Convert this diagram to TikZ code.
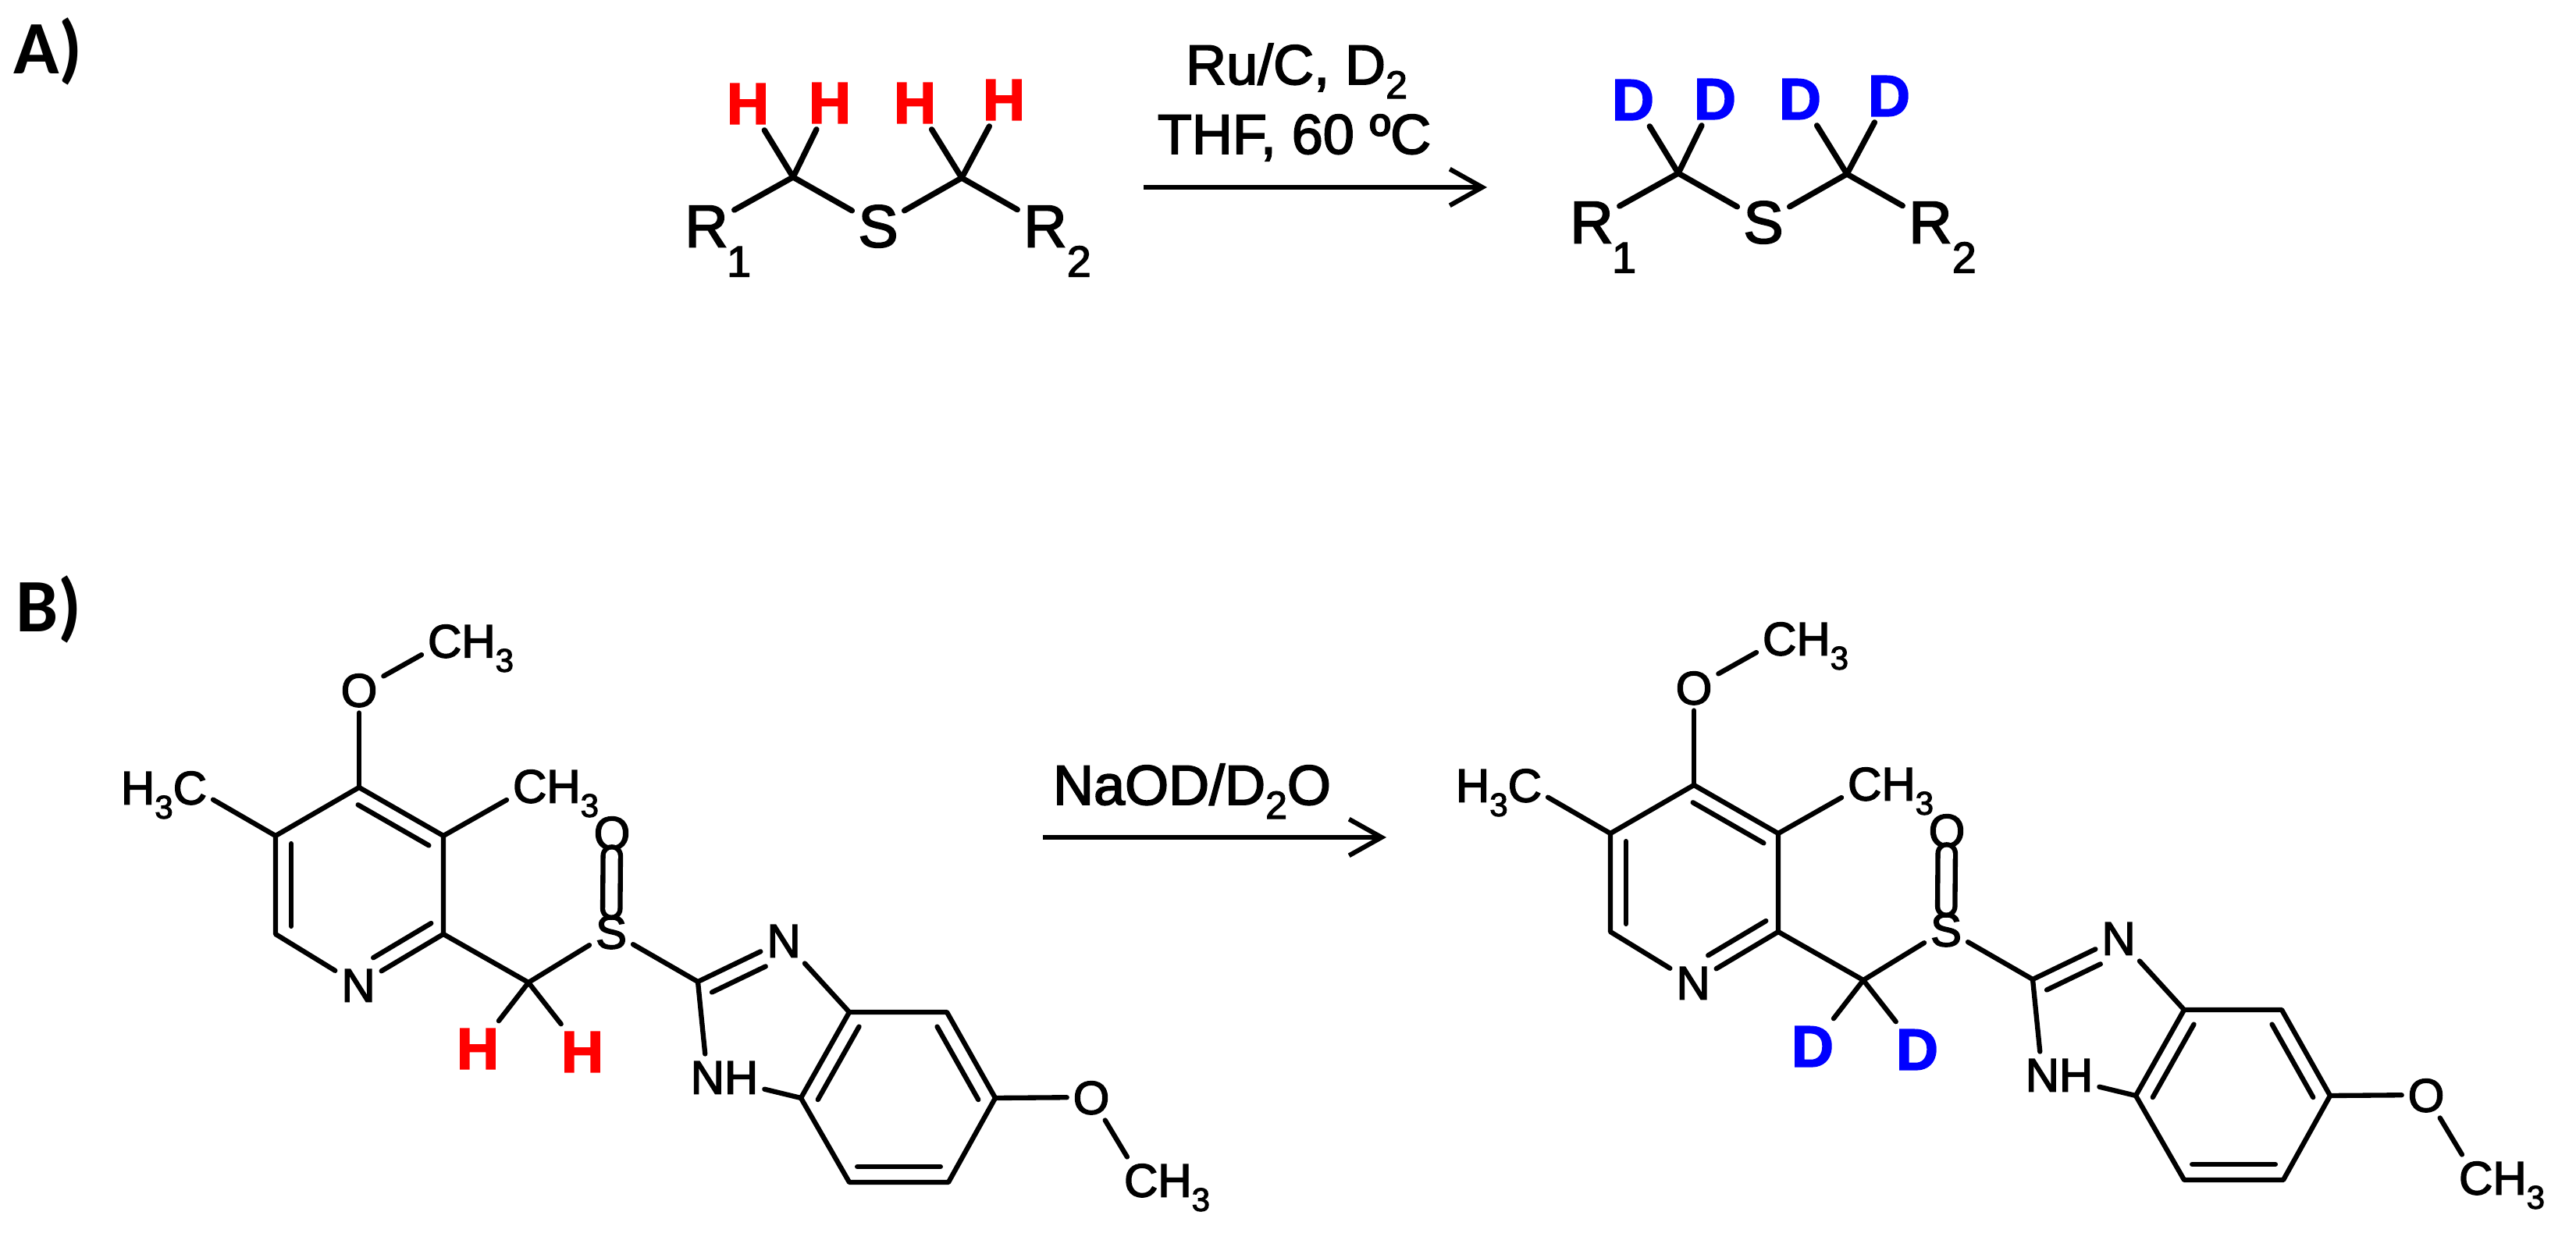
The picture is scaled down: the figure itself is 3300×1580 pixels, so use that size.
\documentclass[tikz,border=0pt]{standalone}
\usepackage{fontspec}
\setmainfont{Liberation Sans}[FakeBold=2.5]
\newfontfamily\isofont{Liberation Sans Bold}[FakeBold=2]
\newfontfamily\panelfont{Carlito}
\usetikzlibrary{arrows.meta,calc}

% lowered digit: drop, size, text
\newcommand{\lowdigit}[3]{\raisebox{-#1pt}{\fontsize{#2pt}{#2pt}\selectfont #3}}
% second line of a double bond, on the left of a -> b
\newcommand{\innerbond}[4]{\draw[bond] ($(#1)!#3!(#2)!6pt!90:(#2)$) -- ($(#2)!#4!(#1)!6pt!-90:(#1)$);}

\begin{document}
\begin{tikzpicture}[x=0.3pt,y=-0.3pt,
        bond/.style={line width=1.9pt,line cap=round,line join=round},
        thickbond/.style={bond,line width=2.2pt},
        react/.style={line width=1.8pt,-{Straight Barb[length=12.5pt,width=14pt,line width=1.8pt]}},
        every node/.style={inner sep=0pt,outer sep=2.4pt,text depth=0pt},
        atomA/.style={font=\fontsize{23pt}{23pt}\selectfont,text height=16.5pt},
        atomB/.style={font=\fontsize{18pt}{18pt}\selectfont,text height=12.9pt},
        isotope/.style={font=\isofont\fontsize{22.5pt}{22.5pt}\selectfont,text height=16.1pt},
        reagent/.style={font=\fontsize{21.6pt}{21.6pt}\selectfont,anchor=base,text height=15.5pt},
        panel/.style={font=\panelfont\fontsize{29pt}{29pt}\selectfont\bfseries,anchor=base west,outer sep=0pt}]

    \useasboundingbox (0,0) rectangle (3300,1580);

    \node[panel] (panelA) at (17,95) {A)};
    \node[panel] (panelB) at (20,810) {B)};

    % thioether, before and after
    \foreach \dx/\dy/\lab/\col/\m in {0/0/H/red/a,1134/-5/D/blue/b} {
    \begin{scope}[shift={(\dx,\dy)}]
        \coordinate (\m c1) at (1016,227);
        \coordinate (\m c2) at (1232,228);
        \node[atomA] (\m r1) at (905,289) {R\rlap{\kern-0.5pt\lowdigit{11.4}{16.8}{1}}};
        \node[atomA] (\m s) at (1125,289) {S};
        \node[atomA] (\m r2) at (1339,289) {R\rlap{\kern0pt\lowdigit{11.4}{16.8}{2}}};
        \node[isotope,text=\col] (\m h1) at (958,132) {\lab};
        \node[isotope,text=\col] (\m h2) at (1063,131) {\lab};
        \node[isotope,text=\col] (\m h3) at (1172,131) {\lab};
        \node[isotope,text=\col] (\m h4) at (1286,127) {\lab};
        \draw[thickbond] (\m r1) -- (\m c1) -- (\m s) -- (\m c2) -- (\m r2);
        \draw[thickbond] (\m c1) -- (\m h1);
        \draw[thickbond] (\m c1) -- (\m h2);
        \draw[thickbond] (\m c2) -- (\m h3);
        \draw[thickbond] (\m c2) -- (\m h4);
    \end{scope}
    }

    \node[reagent] (ruc) at (1661,108) {Ru/C, D\lowdigit{5.4}{15}{2}};
    \node[reagent] (thf) at (1658,197) {THF, 60 ºC};
    \coordinate (arrA1) at (1465,240);
    \coordinate (arrA2) at (1905,240);
    \draw[react] (arrA1) -- (arrA2);

    \node[reagent] (naod) at (1527,1031) {NaOD/D\lowdigit{5.4}{15}{2}O};
    \coordinate (arrB1) at (1336,1073);
    \coordinate (arrB2) at (1776,1073);
    \draw[react] (arrB1) -- (arrB2);

    % sulfoxide, before and after
    \foreach \dx/\dy/\lab/\col/\m in {0/0/H/red/p,1710/-3/D/blue/q} {
    \begin{scope}[shift={(\dx,\dy)}]
        \coordinate (\m c4) at (460,1009);
        \coordinate (\m c3) at (568,1071);
        \coordinate (\m c2) at (568,1197);
        \coordinate (\m c5) at (353,1071);
        \coordinate (\m c6) at (353,1197);
        \coordinate (\m c7) at (677,1259);
        \coordinate (\m c8) at (894,1258);
        \coordinate (\m c9) at (1088,1297);
        \coordinate (\m c10) at (1213,1297);
        \coordinate (\m c11) at (1275,1407);
        \coordinate (\m c12) at (1215,1515);
        \coordinate (\m c13) at (1088,1515);
        \coordinate (\m c14) at (1026,1407);
        \node[atomB] (\m n1) at (459,1262) {N};
        \node[atomB] (\m o1) at (460,884) {O};
        \node[atomB] (\m me1) at (603,821) {CH\lowdigit{5.5}{12.6}{3}};
        \node[atomB] (\m me2) at (712,1007) {CH\lowdigit{5.5}{12.6}{3}};
        \node[atomB] (\m me3) at (210,1009) {H\lowdigit{5.5}{12.6}{3}C};
        \node[atomB] (\m s) at (783,1194) {S};
        \node[atomB] (\m o2) at (784,1067) {O};
        \node[atomB] (\m n2) at (1004,1205) {N};
        \node[atomB] (\m nh) at (928,1380) {NH};
        \node[atomB] (\m o3) at (1398,1406) {O};
        \node[atomB] (\m me4) at (1495,1512) {CH\lowdigit{5.5}{12.6}{3}};
        \node[isotope,text=\col] (\m h1) at (612,1343) {\lab};
        \node[isotope,text=\col] (\m h2) at (746,1347) {\lab};
        % pyridine
        \draw[bond] (\m n1) -- (\m c6) -- (\m c5) -- (\m c4) -- (\m c3) -- (\m c2) -- (\m n1);
        \innerbond{\m c5}{\m c6}{0.08}{0.08}
        \innerbond{\m c3}{\m c4}{0.08}{0.08}
        \innerbond{\m n1}{\m c2}{0.27}{0.05}
        \draw[bond] (\m c4) -- (\m o1);
        \draw[bond] (\m o1) -- (\m me1.196);
        \draw[bond] (\m c3) -- (\m me2.196);
        \draw[bond] (\m c5) -- (\m me3.-14);
        % linker
        \draw[bond] (\m c2) -- (\m c7) -- (\m s) -- (\m c8);
        \draw[bond] (\m c7) -- (\m h1);
        \draw[bond] (\m c7) -- (\m h2);
        \draw[bond,double,double distance=4.8pt] (\m s) -- (\m o2);
        % benzimidazole
        \draw[bond] (\m c8) -- (\m n2) -- (\m c9) -- (\m c10) -- (\m c11) -- (\m c12) -- (\m c13) -- (\m c14) -- (\m c9);
        \innerbond{\m n2}{\m c8}{0.29}{0.085}
        \innerbond{\m c9}{\m c14}{0.08}{0.07}
        \innerbond{\m c11}{\m c10}{0.07}{0.08}
        \innerbond{\m c13}{\m c12}{0.08}{0.08}
        \draw[bond] (\m c8) -- (\m nh.130);
        \draw[bond] (\m nh.-17) -- (\m c14);
        \draw[bond] (\m c11) -- (\m o3);
        \draw[bond] (\m o3) -- (\m me4.150);
    \end{scope}
    }
\end{tikzpicture}
\end{document}
